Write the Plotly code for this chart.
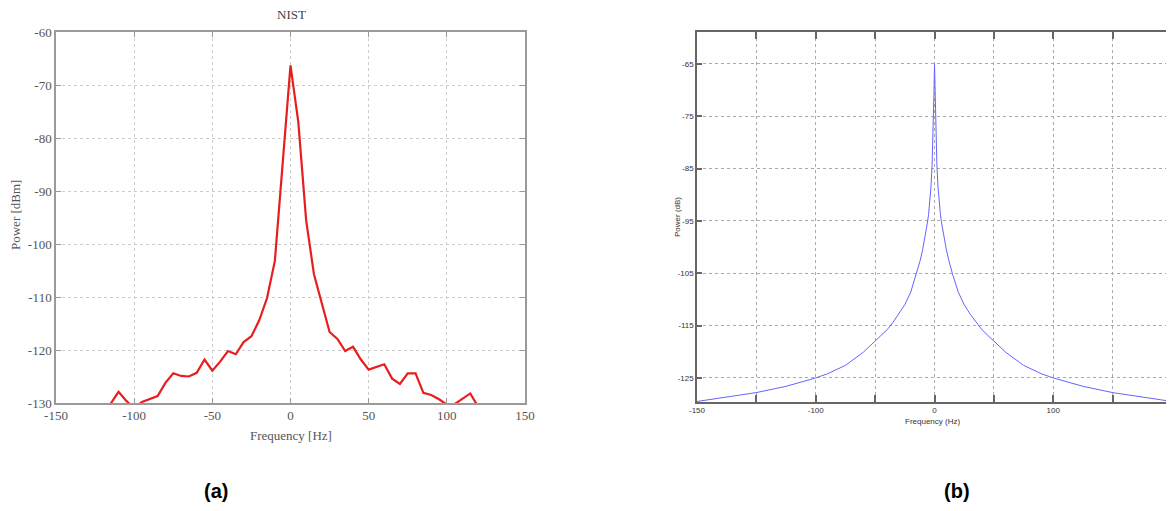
import plotly.graph_objects as go

# ---------------- Panel (a): NIST measured spectrum ----------------
freq_a = [-115, -110, -105, -100, -95, -90, -85, -80, -75, -70, -65, -60, -55, -50,
          -45, -40, -35, -30, -25, -20, -15, -10, -5, 0, 5, 10, 15, 20, 25, 30, 35,
          40, 45, 50, 55, 60, 65, 70, 75, 80, 85, 90, 95, 100, 105, 110, 115, 120]
power_a = [-130.1, -127.9, -129.6, -131.0, -129.8, -129.2, -128.7, -126.2, -124.4,
           -124.9, -125.0, -124.3, -121.8, -123.9, -122.2, -120.2, -120.8, -118.5,
           -117.4, -114.4, -110.2, -103.2, -85.0, -66.3, -77.0, -95.5, -105.7, -111.3,
           -116.6, -117.9, -120.2, -119.4, -121.8, -123.7, -123.2, -122.7, -125.4,
           -126.4, -124.4, -124.4, -128.1, -128.5, -129.3, -130.3, -130.2, -129.2,
           -128.2, -130.7]
xticks_a = [-150, -100, -50, 0, 50, 100, 150]
xlabels_a = ["-150", "-100", "-50", "0", "50", "100", "150"]
yticks_a = [-60, -70, -80, -90, -100, -110, -120, -130]
ylabels_a = ["-60", "-70", "-80", "-90", "-100", "-110", "-120", "-130"]

# ---------------- Panel (b): simulated spectrum ----------------
freq_b = [-200, -175, -150, -125, -100, -90, -75, -60, -50, -45, -40, -35, -30, -25,
          -20, -15, -12, -10, -8, -6, -5, -4, -3, -2, -1.5, -1, -0.5, 0, 0.5, 1, 1.5,
          2, 3, 4, 5, 6, 8, 10, 12, 15, 20, 25, 30, 35, 40, 45, 50, 60, 75, 90, 100,
          125, 150, 175, 200]
power_b = [-129.5, -128.7, -127.8, -126.6, -125.0, -124.2, -122.6, -120.1, -118.0,
           -116.9, -115.8, -114.4, -112.8, -111.0, -108.6, -105.0, -102.5, -100.5,
           -98.2, -95.4, -93.8, -91.6, -88.6, -84.2, -80.6, -76.2, -70.8, -65.0,
           -70.8, -76.2, -80.6, -84.2, -88.6, -91.6, -93.8, -95.4, -98.2, -100.5,
           -102.5, -105.0, -108.6, -111.0, -112.8, -114.4, -115.8, -116.9, -118.0,
           -120.1, -122.6, -124.2, -125.0, -126.6, -127.8, -128.7, -129.5]
xtickvals_b = [-200, -150, -100, -50, 0, 50, 100, 150, 200]
xticktext_b = ["-150", "", "-100", "", "0", "", "100", "", "150"]
yticks_b = [-65, -75, -85, -95, -105, -115, -125]
ylabels_b = ["-65", "-75", "-85", "-95", "-105", "-115", "-125"]

# page offset (body margin) and figure size
OFF = 8
W, H = 1174 - OFF, 511 - OFF


def px(x):
    return (x - OFF) / W


def py(y):
    return 1 - (y - OFF) / H


fig = go.Figure()
fig.add_trace(go.Scatter(x=freq_a, y=power_a, mode="lines",
                         line=dict(color="rgb(232,30,30)", width=2.2),
                         xaxis="x", yaxis="y", showlegend=False))
fig.add_trace(go.Scatter(x=freq_b, y=power_b, mode="lines",
                         line=dict(color="rgb(100,100,255)", width=1),
                         xaxis="x2", yaxis="y2", showlegend=False))

serif = "Liberation Serif"
sans = "Liberation Sans"

common_a = dict(showline=True, mirror="ticks", linecolor="#9a9a9a", linewidth=1.5,
                ticks="inside", ticklen=5, tickcolor="#9a9a9a", showgrid=True,
                gridcolor="rgb(205,205,205)", griddash="dot", gridwidth=1,
                zeroline=False, automargin=False, ticklabeloverflow="allow",
                tickfont=dict(family=serif, size=13, color="#555"))
common_b = dict(showline=True, mirror="ticks", linecolor="#666", linewidth=1.5,
                ticks="inside", tickcolor="#666", tickwidth=1.5, showgrid=True,
                gridcolor="rgb(170,170,170)", griddash="dot", gridwidth=1,
                zeroline=False, automargin=False, ticklabeloverflow="allow",
                tickfont=dict(family=sans, size=8, color="#333"))


def ann(text, x, y, font, angle=0):
    return dict(text=text, x=px(x), y=py(y), xref="paper", yref="paper",
                xanchor="center", yanchor="middle", showarrow=False,
                textangle=angle, font=font)


fig.update_layout(
    width=W, height=H,
    margin=dict(l=0, r=0, t=0, b=0, autoexpand=False),
    paper_bgcolor="white", plot_bgcolor="white",
    xaxis=dict(domain=[px(56), px(525)], anchor="y", range=[-150, 150],
               tickvals=xticks_a, ticktext=xlabels_a, **common_a),
    yaxis=dict(domain=[py(403), py(32)], anchor="x", range=[-130, -60],
               tickvals=yticks_a, ticktext=ylabels_a, **common_a),
    xaxis2=dict(domain=[px(697), px(1172)], anchor="y2", range=[-200, 200],
                tickvals=xtickvals_b, ticktext=xticktext_b, ticklen=7, **common_b),
    yaxis2=dict(domain=[py(402), py(32)], anchor="x2", range=[-129.6, -58.9],
                tickvals=yticks_b, ticktext=ylabels_b, ticklen=5, **common_b),
    annotations=[
        ann("NIST", 291, 15, dict(family=serif, size=13, color="#444")),
        ann("Power [dBm]", 15, 215, dict(family=serif, size=13, color="#555"), -90),
        ann("Frequency [Hz]", 291, 435, dict(family=serif, size=13, color="#555")),
        ann("Power (dB)", 677, 217, dict(family=sans, size=8, color="#333"), -90),
        ann("Frequency (Hz)", 932, 421, dict(family=sans, size=8, color="#333")),
        ann("<b>(a)</b>", 216, 491, dict(family=sans, size=20, color="black")),
        ann("<b>(b)</b>", 957, 491, dict(family=sans, size=20, color="black")),
    ],
)

fig.write_html("out.html")
